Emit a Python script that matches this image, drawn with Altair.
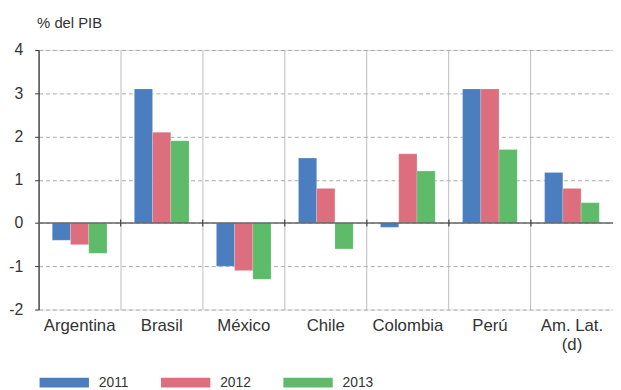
import altair as alt
import pandas as pd

categories = ["Argentina", "Brasil", "México", "Chile", "Colombia", "Perú", "Am. Lat. (d)"]
years = ["2011", "2012", "2013"]
v2011 = [-0.4, 3.1, -1.0, 1.5, -0.1, 3.1, 1.17]
v2012 = [-0.5, 2.1, -1.1, 0.8, 1.6, 3.1, 0.8]
v2013 = [-0.7, 1.9, -1.3, -0.6, 1.2, 1.7, 0.47]
colors = ["#4a7ebf", "#dc6e7e", "#5dbb6a"]
y_ticks = [-2, -1, 0, 1, 2, 3, 4]

rows = []
for y, vals in zip(years, [v2011, v2012, v2013]):
    for c, v in zip(categories, vals):
        rows.append({"pais": c, "anio": y, "valor": v})
df = pd.DataFrame(rows)
cat_df = pd.DataFrame({"pais": categories})

FONT = "Liberation Sans"
TXT = "#333333"

xscale = alt.Scale(domain=categories, paddingInner=0, paddingOuter=0)
yscale = alt.Scale(domain=[-2, 4], nice=False)

bars = alt.Chart(df).mark_bar(stroke="white", strokeWidth=0.4, strokeOpacity=0.5).encode(
    x=alt.X("pais:N", scale=xscale, sort=categories,
            axis=alt.Axis(title=None, domain=False, ticks=False, labelAngle=0,
                          labelFontSize=17, labelColor=TXT, labelFont=FONT,
                          labelPadding=8,
                          labelExpr="datum.value == 'Am. Lat. (d)' ? ['Am. Lat.', '(d)'] : datum.label",
                          grid=True, gridColor="#bdbdbd", gridWidth=1, bandPosition=0)),
    xOffset=alt.XOffset("anio:N", sort=years,
                        scale=alt.Scale(paddingInner=0, paddingOuter=0.75)),
    y=alt.Y("valor:Q", scale=yscale,
            axis=alt.Axis(values=y_ticks, title="% del PIB", titleAngle=0,
                          titleX=-2, titleY=-28, titleAlign="left", titleBaseline="middle",
                          titleFontSize=15, titleFontWeight="normal", titleColor=TXT,
                          titleFont=FONT,
                          labelExpr="toString(datum.value)",
                          labelFontSize=16, labelColor=TXT, labelFont=FONT, labelPadding=12,
                          domainColor="#333333", domainWidth=1.2,
                          tickColor="#333333", tickSize=4,
                          grid=True, gridColor="#aaaaaa", gridDash=[4, 3], gridWidth=1)),
    color=alt.Color("anio:N", sort=years,
                    scale=alt.Scale(domain=years, range=colors),
                    legend=alt.Legend(title=None, orient="none", direction="horizontal",
                                      legendX=1, legendY=312,
                                      symbolType="M-1,-0.2H1V0.2H-1Z", symbolSize=2500,
                                      symbolStrokeWidth=0, symbolOpacity=1,
                                      labelFontSize=14, labelColor=TXT, labelFont=FONT,
                                      labelOffset=10, columnPadding=32)),
)

zero = alt.Chart(pd.DataFrame({"y": [0]})).mark_rule(color="#666666", strokeWidth=1.5).encode(
    y=alt.Y("y:Q", scale=yscale)
)

ticks = alt.Chart(cat_df.iloc[1:]).mark_rule(color="#444444", strokeWidth=1.2).encode(
    x=alt.X("pais:N", scale=xscale, sort=categories, bandPosition=0),
    y=alt.datum(-0.08, scale=yscale),
    y2=alt.datum(0.08),
)

chart = alt.layer(bars, zero, ticks).properties(
    width=582, height=263,
    autosize=alt.AutoSizeParams(type="none"),
    padding={"left": 31, "top": 40, "right": 0, "bottom": 79},
).configure_view(stroke=None).configure(font=FONT)

chart.save("out.html", embed_options={"renderer": "svg", "actions": False})
